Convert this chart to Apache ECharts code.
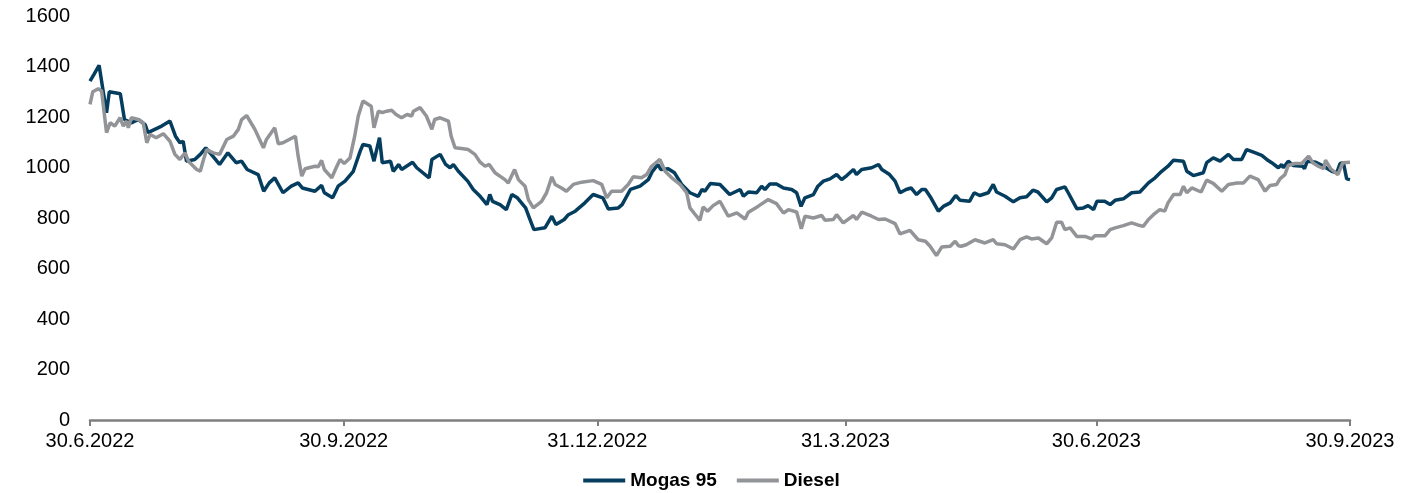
<!DOCTYPE html>
<html>
<head>
<meta charset="utf-8">
<script src="https://cdn.jsdelivr.net/npm/echarts@6/dist/echarts.min.js"></script>
<style>
html,body{margin:0;padding:0;background:#fff;}
#chart{width:1423px;height:493px;}
</style>
</head>
<body>
<div id="chart"></div>
<script>
// x positions are days after 30.6.2022
const tickDays = [0, 92, 184, 274, 365, 457];
const tickLabels = ['30.6.2022', '30.9.2022', '31.12.2022', '31.3.2023', '30.6.2023', '30.9.2023'];

const mogasDays = [0,1.5,3.3,6,7,11,12.5,15,17.5,20,21,26,29,31,32.6,33.8,35,38,40,42,44,47,50,53,55,57,61,63,65,67,70,73,75.5,77,81.6,84,85,88,90,92.5,95.5,98,99,101.5,103,105,106,109,110,112,113,117,118.5,123,124,127,129,130.6,131.8,133.6,137,139,141.5,144,145,146,148.7,151,153,155,158,159.6,161,165,167.5,169,172,173.5,176,179.5,182.5,186,188,191.6,193,196,199.5,202.5,204,206,207,209.7,212,214.6,217.6,220.6,222,223,225,228.5,232,235.8,237,238.8,241.8,243.6,244.8,246.6,249,251.5,254.5,256.3,257.9,259.3,262.4,264,266,268.4,270.8,272.6,274.5,276.9,278,279.9,283.5,286,287.2,290,292,293.8,296,297.8,299.8,301.7,303,305,307.7,309.5,312,314,315.6,319,320.7,322.7,325.8,327.6,328.8,331.9,334.9,337.3,339.7,342,343.8,347,348.8,350.6,353.6,354.8,357.9,360.3,362,364,365.2,368,370,371.8,374.8,377.8,380.8,383.9,386.3,388.7,391,393,396.6,397.8,400.2,403.8,405,407.4,409.9,412.9,414.7,417.7,419.5,422,425,426.8,428.6,431,432.2,432.8,434.6,436.4,439.9,440.5,441.5,444.6,447,450.4,452.2,453.4,454.6,455.8,457];
const mogasValues = [1342,1370,1405,1217,1300,1292,1190,1177,1190,1170,1138,1164,1184,1124,1098,1104,1025,1032,1052,1078,1052,1012,1058,1019,1025,992,972,906,939,959,900,926,939,919,906,929,900,880,926,946,985,1065,1091,1085,1025,1118,1019,1025,985,1012,992,1021,999,959,1032,1052,1012,999,1012,985,946,913,886,853,893,866,853,833,893,880,840,794,754,761,807,774,794,813,827,860,893,880,836,840,853,913,926,952,985,1012,992,995,979,933,900,886,913,906,937,933,893,913,886,903,900,926,913,935,935,919,913,900,846,880,893,926,946,955,972,952,968,992,972,992,999,1012,992,972,946,900,913,919,893,913,913,880,827,846,860,889,870,866,900,889,900,933,903,886,864,880,884,910,903,864,880,913,923,900,837,840,849,833,866,866,853,870,876,900,903,939,959,985,1005,1029,1025,985,968,979,1019,1038,1025,1052,1032,1032,1071,1061,1048,1032,1019,999,1012,999,1025,1008,1005,995,1025,1021,1008,985,979,1016,1019,955,952];

const dieselDays = [0,1,3,4.2,6,7.3,9,10.9,12.1,13.3,13.9,15,17.5,19.3,20.6,21.8,24,26.6,29,30.8,32.6,34.5,35.7,38.7,40,41,42.3,44.7,47,49.6,52,53.8,55,56.8,59.8,62.9,64,67,68.3,70,74.5,75.5,76.8,78,81.6,82.8,84,85,87.7,89,90.7,92.2,94.3,96,97.3,99,102,103,104.6,106,107.6,109.4,111,113,115,116.7,117.3,119.7,122,124,125,127,130,131,132.4,135.4,137.2,139.6,141.5,143.3,144.8,146.9,150.5,151.7,154,155.4,157.8,159,160.8,163.8,165.6,167.5,168.7,171,172.8,175.3,178.3,182.5,185.6,187.4,189.2,192.8,195.2,197,200,201.9,203.7,206.7,208.6,211,214,216.4,217.6,220,221.2,222.4,224,226,228.5,231.5,234.6,237.6,238.8,242.4,246,249,251.5,253.3,256.3,258,259.3,262.4,265.4,266.6,269.6,270.8,273.2,276.9,278,279.9,283.5,286,288.4,292,293.8,297.4,300.4,303,304.7,307,308.9,312,313.8,315,316,317.8,321,324.6,327.6,328.8,331.9,334.9,337.3,339.7,341.5,344,347,348.8,350.6,352.4,353.6,355.5,357.9,360.9,363.3,364.5,368.2,370,371.8,374.8,377.8,380.8,382,383.9,385.7,388,389.8,391,393,395.4,396.6,397.8,399.6,403,405,407.4,410.5,412.9,416,418.4,420.7,423.7,426.2,428,430.4,431.6,433.4,434.6,437,439.5,442,443.5,445.5,447.5,448.1,450,452.6,454.4,457];
const dieselValues = [1250,1300,1312,1303,1138,1177,1164,1197,1164,1184,1157,1197,1190,1177,1098,1131,1118,1134,1104,1052,1032,1058,1025,992,985,1025,1071,1058,1052,1111,1124,1151,1190,1206,1151,1078,1111,1157,1094,1098,1124,1045,966,995,1005,1003,1028,992,959,992,1032,1016,1038,1124,1204,1263,1243,1157,1223,1217,1223,1227,1210,1197,1210,1204,1223,1237,1204,1151,1190,1197,1184,1124,1078,1074,1071,1052,1021,1005,1012,979,952,939,992,952,926,873,840,866,900,963,933,919,906,933,942,948,933,880,906,906,933,963,959,972,1005,1032,985,959,933,900,840,807,791,844,827,849,866,807,820,796,823,847,873,857,820,833,824,757,807,800,810,791,794,813,781,810,794,823,807,794,796,778,737,751,714,708,688,651,685,688,708,690,688,694,714,701,714,698,694,677,714,725,717,721,698,721,783,783,754,761,727,727,717,730,730,754,761,770,781,770,767,794,813,833,827,860,893,893,926,900,919,903,950,937,906,933,939,939,966,952,906,929,933,955,972,1008,1016,1016,1045,1019,1005,995,1029,995,972,1019,1021];

const yMin = 0, yMax = 1600, yInterval = 200;

function zip(xs, ys) { return xs.map((x, i) => [x, ys[i]]); }

const FONT = 'Arial, "Liberation Sans", sans-serif';
const chart = echarts.init(document.getElementById('chart'), null, {renderer: 'canvas'});
chart.setOption({
  animation: false,
  backgroundColor: '#ffffff',
  grid: {left: 90, right: 73, top: 16, bottom: 73, containLabel: false},
  legend: {
    top: 466,
    left: 'center',
    padding: 5,
    itemWidth: 42,
    itemHeight: 4,
    itemGap: 20,
    icon: 'rect',
    textStyle: {fontFamily: FONT, fontSize: 19, fontWeight: 'bold', color: '#000'},
    data: ['Mogas 95', 'Diesel']
  },
  xAxis: {
    type: 'value',
    min: 0,
    max: 457,
    splitLine: {show: false},
    axisLine: {show: true, lineStyle: {color: '#7f7f7f', width: 2.5}},
    axisTick: {show: true, customValues: tickDays, length: 6, lineStyle: {color: '#7f7f7f', width: 2}},
    axisLabel: {
      customValues: tickDays,
      margin: 11,
      fontFamily: FONT, fontSize: 20, color: '#000',
      formatter: v => { const i = tickDays.indexOf(v); return i >= 0 ? tickLabels[i] : ''; }
    }
  },
  yAxis: {
    type: 'value',
    min: yMin, max: yMax, interval: yInterval,
    splitLine: {show: false},
    axisLine: {show: false},
    axisTick: {show: false},
    axisLabel: {margin: 20, fontFamily: FONT, fontSize: 20, color: '#000', formatter: v => String(v)}
  },
  series: [
    {
      name: 'Mogas 95', type: 'line', symbol: 'none', smooth: false,
      data: zip(mogasDays, mogasValues),
      lineStyle: {color: '#053d5e', width: 3.5},
      itemStyle: {color: '#053d5e'}
    },
    {
      name: 'Diesel', type: 'line', symbol: 'none', smooth: false,
      data: zip(dieselDays, dieselValues),
      lineStyle: {color: '#929497', width: 3.5},
      itemStyle: {color: '#929497'}
    }
  ]
});
</script>
</body>
</html>
